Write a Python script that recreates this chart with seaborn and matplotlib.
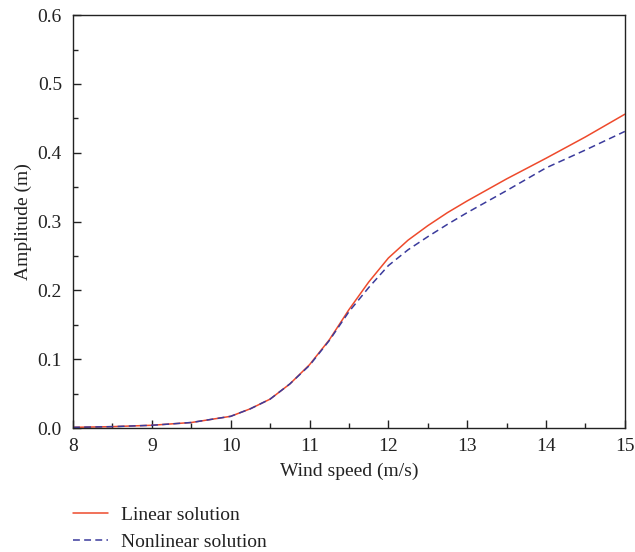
import numpy as np
import pandas as pd
import matplotlib
matplotlib.use("Agg")
import matplotlib.pyplot as plt
import seaborn as sns
from matplotlib.ticker import MultipleLocator, FormatStrFormatter
from matplotlib.lines import Line2D

wind_speed = [8.0, 8.5, 9.0, 9.5, 10.0, 10.25, 10.5, 10.75, 11.0, 11.25, 11.5, 11.75,
              12.0, 12.25, 12.5, 12.75, 13.0, 13.5, 14.0, 14.5, 15.0]
linear = [0.001, 0.002, 0.004, 0.008, 0.017, 0.028, 0.042, 0.064, 0.092, 0.128, 0.172, 0.212,
          0.247, 0.273, 0.294, 0.313, 0.330, 0.362, 0.392, 0.423, 0.456]
nonlinear = [0.001, 0.002, 0.004, 0.008, 0.017, 0.028, 0.042, 0.064, 0.091, 0.127, 0.169, 0.204,
             0.236, 0.259, 0.278, 0.296, 0.313, 0.345, 0.378, 0.404, 0.431]
series_names = ["Linear solution", "Nonlinear solution"]

df = pd.DataFrame({
    "x": wind_speed * 2,
    "y": linear + nonlinear,
    "s": [series_names[0]] * len(wind_speed) + [series_names[1]] * len(wind_speed),
})

sns.set_theme(style="ticks")
plt.rcParams["font.family"] = ["Liberation Serif", "DejaVu Serif"]

fig = plt.figure(figsize=(6.35, 5.52), dpi=100)
ax = fig.add_axes([0.115, 0.2246, 0.869, 0.748])

palette = {series_names[0]: "#ee4a2c", series_names[1]: "#3b3b9c"}
dash = (4.5, 2.8)
sns.lineplot(data=df, x="x", y="y", hue="s", style="s", palette=palette,
             dashes={series_names[0]: "", series_names[1]: dash},
             linewidth=1.1, ax=ax, legend=False, estimator=None, sort=True)

ax.set_xlim(8, 15)
ax.set_ylim(0, 0.6)
ax.xaxis.set_major_locator(MultipleLocator(1))
ax.xaxis.set_minor_locator(MultipleLocator(0.5))
ax.yaxis.set_major_locator(MultipleLocator(0.1))
ax.yaxis.set_minor_locator(MultipleLocator(0.05))
ax.yaxis.set_major_formatter(FormatStrFormatter("%.1f"))
ax.tick_params(which="both", direction="in", top=False, right=False, labelsize=14,
               color="#222222", labelcolor="#222222")
ax.tick_params(which="major", length=6, width=1)
ax.tick_params(which="minor", length=3.5, width=1)
ax.tick_params(axis="y", which="major", pad=8)
ax.tick_params(axis="x", which="major", pad=7)
for sp in ax.spines.values():
    sp.set_linewidth(1.0)
    sp.set_color("#222222")
ax.set_xlabel("Wind speed (m/s)", fontsize=14, color="#222222", labelpad=6)
ax.set_ylabel("Amplitude (m)", fontsize=14, color="#222222", labelpad=4)

handles = [Line2D([], [], color=palette[series_names[0]], lw=1.1),
           Line2D([], [], color=palette[series_names[1]], lw=1.1, dashes=dash)]
fig.legend(handles, series_names, loc="upper left", bbox_to_anchor=(0.102, 0.097),
           frameon=False, fontsize=14, handlelength=1.8, labelspacing=0.5,
           handletextpad=0.7, borderaxespad=0, labelcolor="#222222")

fig.savefig("out.png", dpi=100)
